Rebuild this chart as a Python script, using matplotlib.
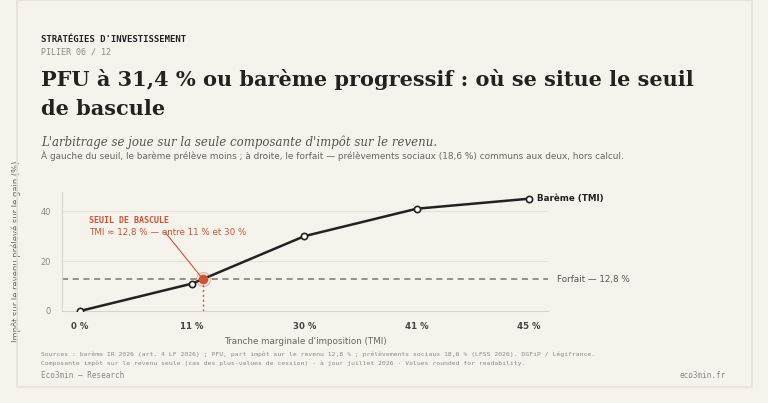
import matplotlib
matplotlib.use("Agg")
import matplotlib.pyplot as plt
from matplotlib.patches import Rectangle

tranches = ["0 %", "11 %", "30 %", "41 %", "45 %"]
impot = [0, 11, 30, 41, 45]
forfait = 12.8
yticks = [0, 20, 40]

BG = "#f6f3ec"
INK = "#222222"
ACC = "#c8553a"
GREY = "#8a8a85"

fig = plt.figure(figsize=(7.68, 4.03), dpi=100, facecolor=BG)
fig.patches.append(Rectangle((17/768, 1-387/403), 735/768, 387/403, transform=fig.transFigure,
                             fill=False, edgecolor="#e6e2d8", lw=1.2))

fig.text(41/768, 1-40/403, "STRATÉGIES D'INVESTISSEMENT", family="DejaVu Sans Mono", fontsize=6.5,
         weight="bold", color=INK, va="center")
fig.text(41/768, 1-52/403, "PILIER 06 / 12", family="DejaVu Sans Mono", fontsize=6, color=GREY, va="center")
fig.text(41/768, 1-80/403, "PFU à 31,4 % ou barème progressif : où se situe le seuil", family="DejaVu Serif",
         fontsize=15, weight="bold", color=INK, va="center")
fig.text(41/768, 1-109/403, "de bascule", family="DejaVu Serif", fontsize=15, weight="bold", color=INK, va="center")
fig.text(41/768, 1-142/403, "L'arbitrage se joue sur la seule composante d'impôt sur le revenu.", family="DejaVu Serif",
         style="italic", fontsize=8.5, color="#555550", va="center")
fig.text(41/768, 1-156/403, "À gauche du seuil, le barème prélève moins ; à droite, le forfait — prélèvements sociaux (18,6 %) communs aux deux, hors calcul.",
         fontsize=6.4, color="#666660", va="center")

ax = fig.add_axes([62/768, 1-311/403, 486/768, 119/403])
ax.set_facecolor(BG)
x = list(range(len(tranches)))
ax.plot(x, impot, color=INK, lw=1.8, marker="o", ms=4.5, mfc="white", mec=INK, mew=1.2, zorder=4)
ax.axhline(forfait, color="#777770", ls=(0, (4, 3)), lw=1.1, zorder=2)
xs = 1 + (forfait - impot[1]) / (impot[2] - impot[1])
ax.plot([xs, xs], [0, forfait], color=ACC, ls=(0, (1.5, 2)), lw=1)
ax.plot(xs, forfait, "o", ms=10, mfc="none", mec=ACC, alpha=0.35, mew=1, zorder=5)
ax.plot(xs, forfait, "o", ms=6, color=ACC, zorder=6)
ax.plot([0.76, xs], [31.5, forfait], color=ACC, lw=0.8)
ax.text(0.08, 34.5, "SEUIL DE BASCULE", color=ACC, family="DejaVu Sans Mono", fontsize=6,
        weight="bold", va="bottom")
ax.text(0.08, 29.5, "TMI ≈ 12,8 % — entre 11 % et 30 %", color=ACC, fontsize=6.3, va="bottom")
ax.text(4.07, impot[-1], "Barème (TMI)", fontsize=6.3, weight="bold", color=INK, va="center")
ax.text(4.25, forfait, "Forfait — 12,8 %", fontsize=6.3, color="#555550", va="center", clip_on=False)

ax.set_xlim(-0.16, 4.17)
ax.set_ylim(0, 47.7)
ax.set_xticks(x, tranches)
ax.set_yticks(yticks)
for t in ax.get_xticklabels():
    t.set_fontweight("bold")
ax.tick_params(axis="x", length=0, labelsize=6.2, colors="#444440", pad=8)
ax.tick_params(axis="y", length=0, labelsize=6, colors=GREY, pad=8)
ax.grid(axis="y", color="#e5e1d8", lw=0.8)
ax.set_axisbelow(True)
for s in ["top", "right"]:
    ax.spines[s].set_visible(False)
for s in ["left", "bottom"]:
    ax.spines[s].set_color("#d8d4ca")
ax.set_xlabel("Tranche marginale d'imposition (TMI)", fontsize=6.3, color="#666660", labelpad=4)
ax.set_ylabel("Impôt sur le revenu prélevé sur le gain (%)", fontsize=6, color="#666660")
ax.yaxis.set_label_coords(-0.085, 0.5)

fig.text(41/768, 1-354/403, "Sources : barème IR 2026 (art. 4 LF 2026) ; PFU, part impôt sur le revenu 12,8 % ; prélèvements sociaux 18,6 % (LFSS 2026). DGFiP / Légifrance.",
         family="DejaVu Sans Mono", fontsize=4.6, color=GREY, va="center")
fig.text(41/768, 1-363/403, "Composante impôt sur le revenu seule (cas des plus-values de cession) · à jour juillet 2026 · Values rounded for readability.",
         family="DejaVu Sans Mono", fontsize=4.6, color=GREY, va="center")
fig.text(41/768, 1-375/403, "Eco3min — Research", family="DejaVu Sans Mono", fontsize=5.5, color=GREY, va="center")
fig.text(726/768, 1-375/403, "eco3min.fr", family="DejaVu Sans Mono", fontsize=5.5, color=GREY, va="center", ha="right")

fig.savefig("out.png", dpi=100, facecolor=BG)
